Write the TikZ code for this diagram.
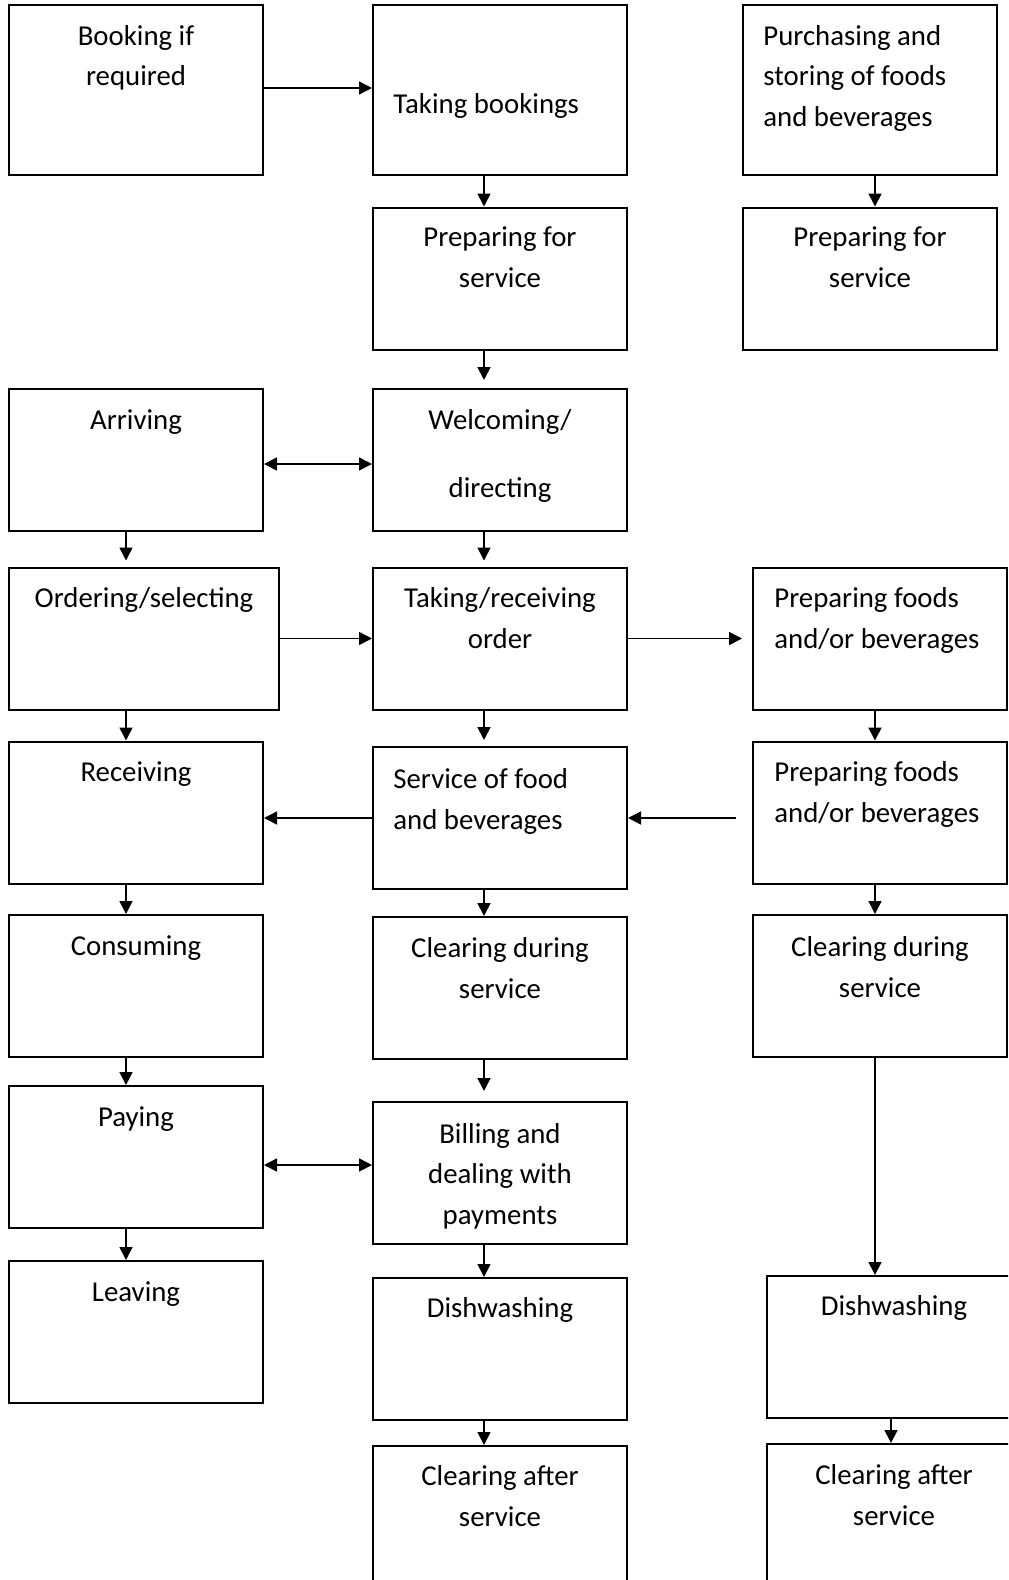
\documentclass[tikz,border=0pt]{standalone}
\usepackage{fontspec}
\setmainfont{Carlito}
\usetikzlibrary{arrows.meta}

\begin{document}
\begin{tikzpicture}[x=0.5pt,y=-0.5pt,
  stage/.style={draw, line width=1pt, minimum width=127pt, minimum height=71pt, inner sep=0pt},
  tall/.style={minimum height=85pt},
  caption/.style={font=\fontsize{14.4}{20.15}\selectfont, inner sep=0pt, align=center, anchor=base, yshift=-1pt},
  lcaption/.style={caption, align=left, anchor=base west},
  flow/.style={-{Triangle[length=6.5pt,width=6.5pt]}, line width=0.8pt},
  twoway/.style={{Triangle[length=6.5pt,width=6.5pt]}-{Triangle[length=6.5pt,width=6.5pt]}, line width=0.8pt}]
\useasboundingbox (0,0) rectangle (1008,1580);
\clip (0,0) rectangle (1008,1580);

% guest column
\node[stage, tall] (bk) at (136,90) {};
\node[stage] (ar) at (136,460) {};
\node[stage, minimum width=135pt] (od) at (144,638.5) {};
\node[stage] (rc) at (136,812.5) {};
\node[stage] (cs) at (136,986) {};
\node[stage] (py) at (136,1157) {};
\node[stage] (lv) at (136,1332) {};

% captions sit on the baseline of their last line
\node[caption] (bk-t) at (136,83.6) {Booking if\\required};
\node[caption] (ar-t) at (136,427) {Arriving};
\node[caption] (od-t) at (144,605) {Ordering/selecting};
\node[caption] (rc-t) at (136,779) {Receiving};
\node[caption] (cs-t) at (136,953) {Consuming};
\node[caption] (py-t) at (136,1124) {Paying};
\node[caption] (lv-t) at (136,1299) {Leaving};

% service column
\node[stage, tall] (tb) at (500,90) {};
\node[stage] (ps) at (500,278.5) {};
\node[stage] (wc) at (500,460) {};
\node[stage] (tr) at (500,638.5) {};
\node[stage] (sv) at (500,818) {};
\node[stage] (cd) at (500,988) {};
\node[stage] (bl) at (500,1173) {};
\node[stage] (dw) at (500,1349) {};
\node[stage] (ca) at (500,1517) {};

\node[lcaption] (tb-t) at (393,111) {Taking bookings};
\node[caption] (ps-t) at (500,285) {Preparing for\\service};
\node[caption] (wc-t) at (500,495) {Welcoming/\\[13.85pt]directing};
\node[caption] (tr-t) at (500,646) {Taking/receiving\\order};
\node[lcaption] (sv-t) at (393,827) {Service of food\\and beverages};
\node[caption] (cd-t) at (500,996) {Clearing during\\service};
\node[caption] (bl-t) at (500,1222) {Billing and\\dealing with\\payments};
\node[caption] (dw-t) at (500,1315) {Dishwashing};
\node[caption] (ca-t) at (500,1524) {Clearing after\\service};

% kitchen column
\node[stage, tall] (pu) at (870,90) {};
\node[stage] (pr) at (870,278.5) {};
\node[stage] (pf) at (880,638.5) {};
\node[stage] (pg) at (880,812.5) {};
\node[stage] (cr) at (880,986) {};
\node[stage] (dr) at (894,1347) {};
\node[stage] (cx) at (894,1515) {};

\node[lcaption] (pu-t) at (763,124) {Purchasing and\\storing of foods\\and beverages};
\node[caption] (pr-t) at (870,285) {Preparing for\\service};
\node[lcaption] (pf-t) at (774,646) {Preparing foods\\and/or beverages};
\node[lcaption] (pg-t) at (774,820) {Preparing foods\\and/or beverages};
\node[caption] (cr-t) at (880,995) {Clearing during\\service};
\node[caption] (dr-t) at (894,1313) {Dishwashing};
\node[caption] (cx-t) at (894,1523) {Clearing after\\service};

% arrow columns
\coordinate (lx) at (126,0);
\coordinate (mx) at (484,0);
\coordinate (rx) at (875,0);
\coordinate (sx) at (891,0);

\draw[flow] (ar.south -| lx) -- ([yshift=3pt]od.north -| lx);
\draw[flow] (od.south -| lx) -- (rc.north -| lx);
\draw[flow] (rc.south -| lx) -- (cs.north -| lx);
\draw[flow] (cs.south -| lx) -- (py.north -| lx);
\draw[flow] (py.south -| lx) -- (lv.north -| lx);

\draw[flow] (tb.south -| mx) -- (ps.north -| mx);
\draw[flow] (ps.south -| mx) -- ([yshift=4pt]wc.north -| mx);
\draw[flow] (wc.south -| mx) -- ([yshift=3pt]tr.north -| mx);
\draw[flow] (tr.south -| mx) -- ([yshift=3pt]sv.north -| mx);
\draw[flow] (sv.south -| mx) -- (cd.north -| mx);
\draw[flow] (cd.south -| mx) -- ([yshift=5pt]bl.north -| mx);
\draw[flow] (bl.south -| mx) -- (dw.north -| mx);
\draw[flow] (dw.south -| mx) -- (ca.north -| mx);

\draw[flow] (pu.south -| rx) -- (pr.north -| rx);
\draw[flow] (pf.south -| rx) -- (pg.north -| rx);
\draw[flow] (pg.south -| rx) -- (cr.north -| rx);
\draw[flow] (cr.south -| rx) -- (dr.north -| rx);
\draw[flow] (dr.south -| sx) -- (cx.north -| sx);

% across
\draw[flow] ([yshift=1pt]bk.east) -- ([yshift=1pt]tb.west);
\draw[twoway] ([yshift=-2pt]ar.east) -- ([yshift=-2pt]wc.west);
\draw[flow] (od.east) -- (tr.west);
\draw[flow, shorten >=5pt] (tr.east) -- (pf.west);
\draw[flow, shorten <=8pt] (pg.west |- sv.east) -- (sv.east);
\draw[flow] (sv.west) -- (sv.west -| rc.east);
\draw[twoway] ([yshift=-4pt]py.east) -- ([yshift=4pt]bl.west);
\end{tikzpicture}
\end{document}
